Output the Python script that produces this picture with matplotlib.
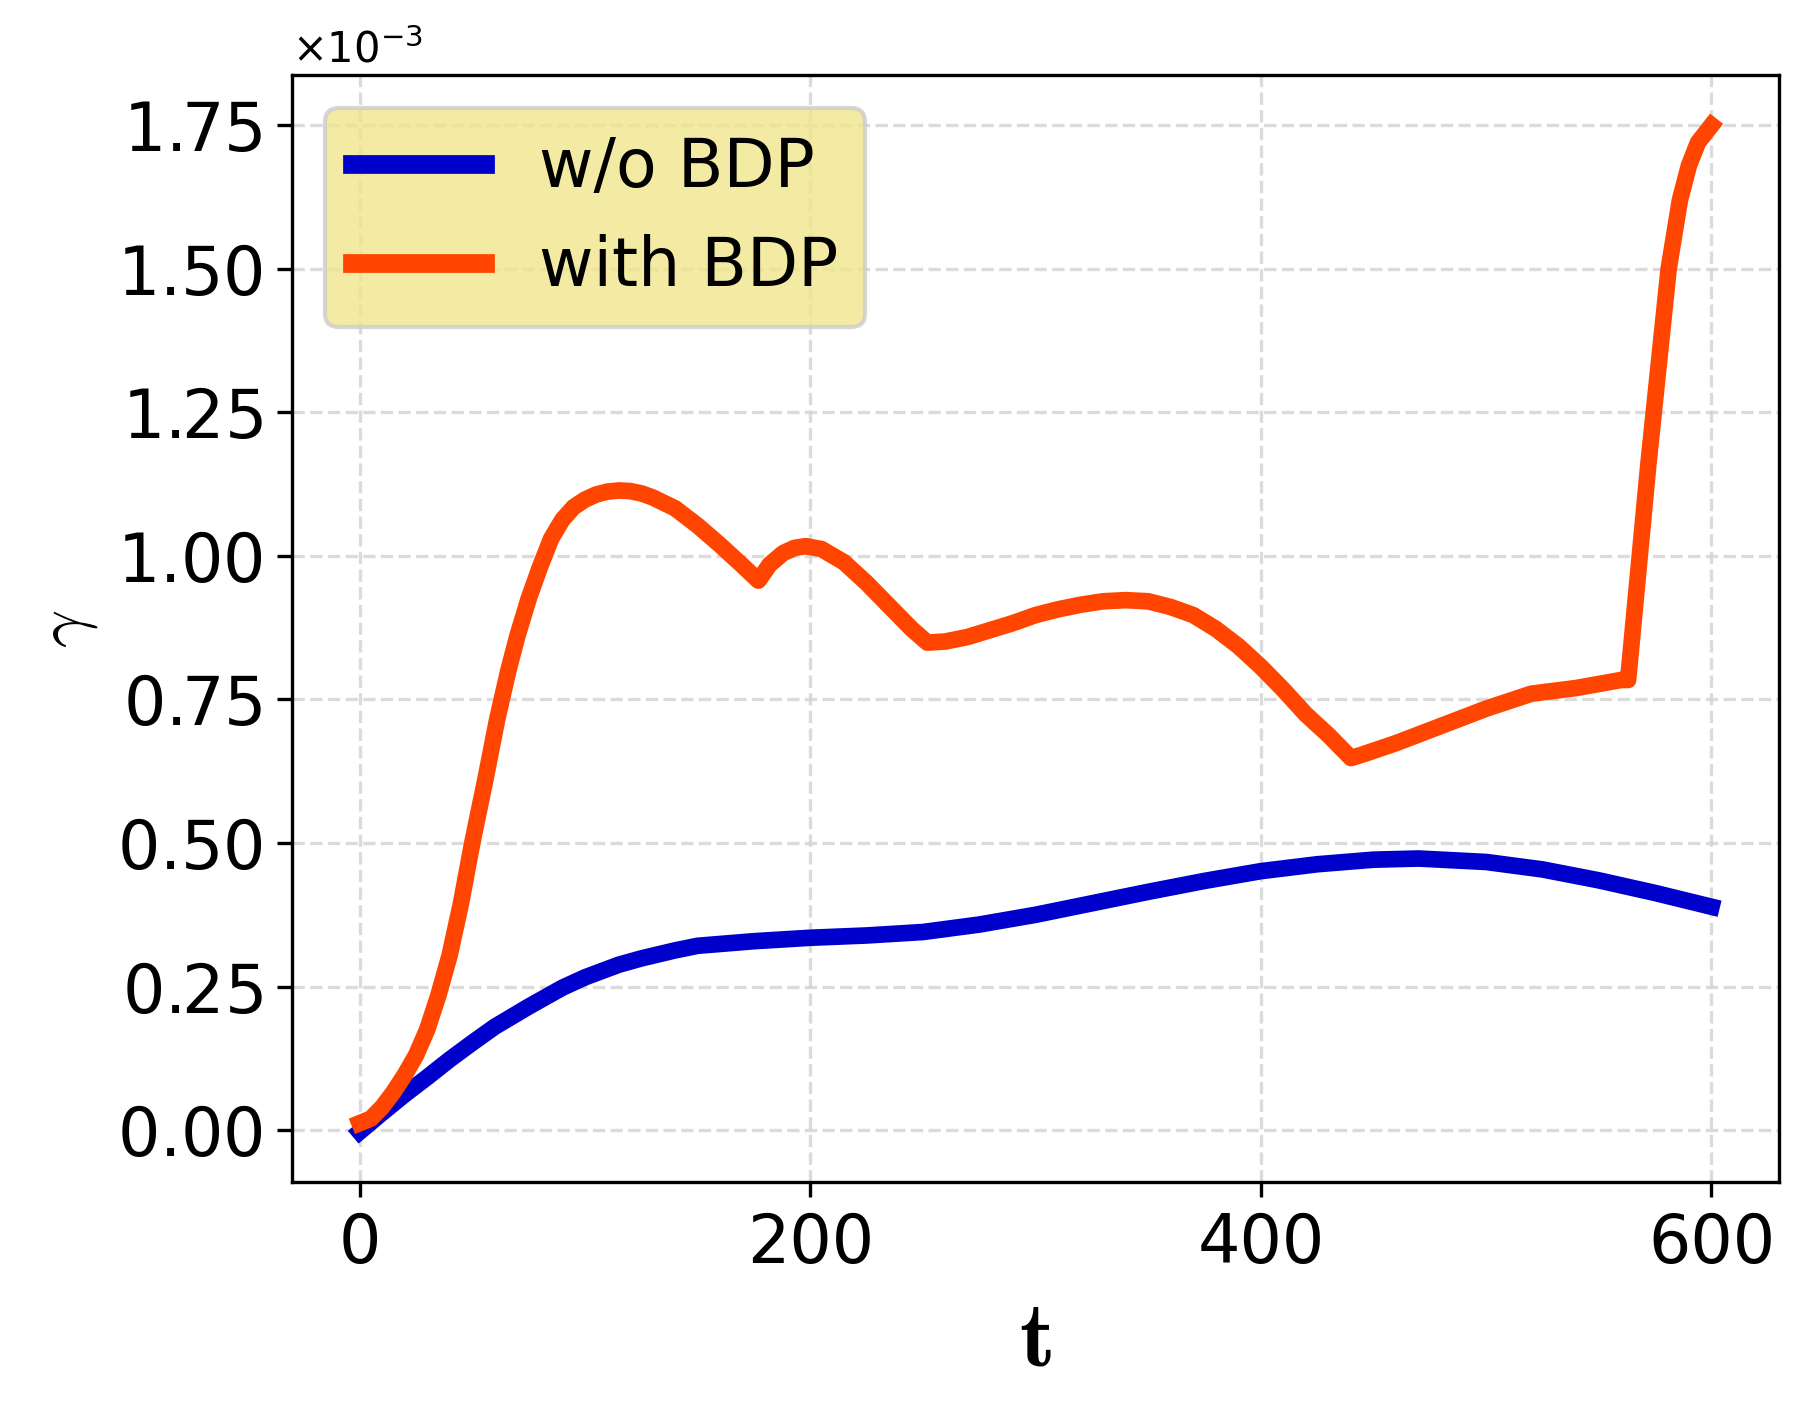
import matplotlib
matplotlib.use("Agg")
import matplotlib.pyplot as plt
from matplotlib.ticker import ScalarFormatter

# values (gamma in units of 1e-3)
t_orange = [0, 5, 10, 15, 20, 25, 30, 35, 40, 45, 50, 56, 61, 66, 70, 75, 80, 85, 90,
            95, 100, 105, 110, 115, 120, 125, 130, 140, 150, 160, 170, 177, 182, 188,
            193, 198, 205, 215, 225, 235, 245, 252, 260, 270, 280, 290, 300, 310, 320,
            330, 340, 350, 360, 370, 380, 390, 400, 410, 420, 430, 440, 445, 460, 480,
            500, 520, 540, 560, 563, 572, 581, 586, 590, 594, 600]
g_orange = [0.012, 0.02, 0.04, 0.066, 0.096, 0.13, 0.175, 0.235, 0.305, 0.395, 0.5,
            0.614, 0.714, 0.80, 0.86, 0.925, 0.98, 1.03, 1.063, 1.085, 1.098, 1.107,
            1.112, 1.114, 1.113, 1.109, 1.102, 1.083, 1.053, 1.019, 0.983, 0.957, 0.985,
            1.005, 1.014, 1.017, 1.012, 0.989, 0.953, 0.913, 0.873, 0.849, 0.851, 0.859,
            0.871, 0.883, 0.897, 0.907, 0.915, 0.921, 0.923, 0.921, 0.911, 0.897, 0.873,
            0.843, 0.807, 0.767, 0.724, 0.688, 0.648, 0.654, 0.674, 0.704, 0.734, 0.760,
            0.770, 0.784, 0.784, 1.16, 1.50, 1.62, 1.68, 1.72, 1.75]

t_blue = [0, 10, 20, 30, 40, 50, 60, 75, 90, 100, 115, 125, 140, 150, 175, 200, 225,
          250, 275, 300, 325, 350, 375, 400, 425, 450, 470, 500, 525, 550, 575, 600]
g_blue = [-0.003, 0.03, 0.062, 0.092, 0.123, 0.152, 0.18, 0.215, 0.248, 0.266, 0.288,
          0.299, 0.313, 0.321, 0.329, 0.335, 0.339, 0.345, 0.358, 0.375, 0.395, 0.415,
          0.434, 0.451, 0.463, 0.471, 0.473, 0.467, 0.454, 0.435, 0.413, 0.389]

g_orange = [v * 1e-3 for v in g_orange]
g_blue = [v * 1e-3 for v in g_blue]

fig, ax = plt.subplots(figsize=(1808 / 300, 1404 / 300), dpi=300)
fig.subplots_adjust(left=0.1615, right=0.984, top=0.9466, bottom=0.158)

ax.plot(t_blue, g_blue, color='mediumblue', lw=4, label='w/o BDP')
ax.plot(t_orange, g_orange, color='orangered', lw=4, label='with BDP')

ax.grid(True, linestyle='--', color='lightgray', alpha=0.8)
ax.set_xticks([0, 200, 400, 600])
ax.tick_params(labelsize=16)

fmt = ScalarFormatter(useMathText=True)
fmt.set_powerlimits((0, 0))
ax.yaxis.set_major_formatter(fmt)
ax.yaxis.get_offset_text().set_fontsize(10)

ax.set_xlabel(r'$\mathbf{t}$', fontsize=22, math_fontfamily='cm')
ax.set_ylabel(r'$\gamma$', fontsize=16, math_fontfamily='cm')

leg = ax.legend(loc='upper left', fontsize=16, facecolor='khaki', framealpha=0.8)
for ln in leg.get_lines():
    ln.set_linewidth(4.5)

fig.savefig('out.png', dpi=300)
